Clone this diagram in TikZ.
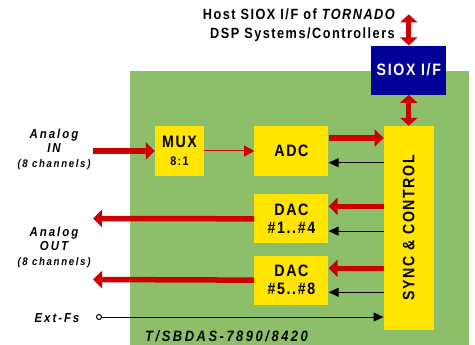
\documentclass[tikz,border=0pt]{standalone}
\usepackage{fontspec}
\newfontfamily\chipfont{Liberation Sans}[FakeStretch=0.86, LetterSpace=10]
\newfontfamily\labelfont{Liberation Sans}[FakeStretch=0.88, LetterSpace=15]
\usepackage{tikz}
\usetikzlibrary{arrows.meta, positioning, calc}

\definecolor{boardgreen}{HTML}{8DBF6A}
\definecolor{chipyellow}{HTML}{FFE500}
\definecolor{sioxblue}{HTML}{000099}
\definecolor{sigred}{HTML}{CC0000}

\begin{document}
\begin{tikzpicture}[
    x=1pt, y=-1pt,
    % --- STYLES ---
    chip/.style={
        rectangle, draw=none, fill=chipyellow,
        minimum width=74pt, minimum height=49pt,
        align=center, inner sep=0pt,
        font=\chipfont\bfseries\fontsize{16.5}{18}\selectfont
    },
    chiptext/.style={inner sep=0pt, font=\chipfont\bfseries\fontsize{16.5}{18}\selectfont},
    sioxbox/.style={
        rectangle, fill=sioxblue, text=white,
        minimum width=75pt, minimum height=49pt,
        inner sep=0pt, font=\chipfont\bfseries\fontsize{16.5}{18}\selectfont
    },
    iolabel/.style={align=center, inner sep=0pt,
        font=\labelfont\bfseries\itshape\fontsize{13}{14.5}\selectfont},
    hostlabel/.style={align=right, inner sep=0pt,
        font=\chipfont\bfseries\fontsize{14.8}{19}\selectfont},
    jack/.style={circle, draw=black, fill=white, line width=1pt, minimum size=5pt, inner sep=0pt},
    bigflow/.style={sigred, line width=5.5pt, -{Triangle[length=9pt, width=17pt]}},
    bothflow/.style={sigred, line width=5pt, {Triangle[length=8pt, width=17pt]}-{Triangle[length=8pt, width=17pt]}},
    sigflow/.style={sigred, line width=1pt, -{Triangle[length=10pt, width=11pt]}},
    ctrl/.style={black, line width=0.8pt, -{Triangle[length=10pt, width=9pt]}}
]
\useasboundingbox (0,0) rectangle (475,345);

% ===== 1. BOARD =====
\fill[boardgreen] (130,71) rectangle (469,345);
\node[anchor=west, inner sep=0pt,
      font=\chipfont\addfontfeature{LetterSpace=17}\bfseries\itshape\fontsize{15}{17}\selectfont]
      (boardname) at (145,336) {T/SBDAS-7890/8420};

% ===== 2. BLOCKS =====
\node[chip, minimum width=49pt, minimum height=50pt] (mux) at (179.5,151) {MUX\\{\fontsize{12.5}{14}\selectfont 8:1}};
\node[chip, minimum height=50pt, right=50pt of mux] (adc) {ADC};
\node[chip, minimum width=50pt, minimum height=203.5pt, right=55pt of adc.north east, anchor=north west] (sync) {};
\node[chiptext, rotate=90] (synctext) at (sync.center) {SYNC \& CONTROL};
\node[chip, below=18pt of adc] (daca) {DAC\\\#1..\#4};
\node[chip, below=12pt of daca] (dacb) {DAC\\\#5..\#8};
\node[sioxbox, above=31pt of sync] (siox) {SIOX I/F};

% ===== 3. OUTSIDE LABELS =====
\node[hostlabel, anchor=east] (host_text) at (395,25.5) {Host SIOX I/F of {\itshape TORNADO}\\DSP Systems/Controllers};
\node[iolabel] (ain_text) at (54,149) {Analog\\IN\\{\fontsize{11}{14}\selectfont (8 channels)}};
\node[iolabel] (aout_text) at (54,247) {Analog\\OUT\\{\fontsize{11}{14}\selectfont (8 channels)}};
\node[iolabel] (extfs) at (57,318) {Ext-Fs};
\node[jack] (extjack) at (99,317) {};

\coordinate (ain) at (93,151);
\coordinate (aouta) at (93,218.5);
\coordinate (aoutb) at (93,279.5);
\coordinate (host) at ($(siox.north)+(0,-31)$);

% ===== 4. CONNECTIONS =====
\draw[bothflow] (host) -- (siox.north);
\draw[bothflow] (siox.south) -- (sync.north);

% input side
\draw[bigflow] (ain) -- (mux);
\draw[sigflow] (mux) -- (adc);
\draw[bigflow] ($(adc.east)+(0,-13)$) -- ($(adc.east -| sync.west)+(0,-13)$);
\draw[ctrl] ($(adc.east -| sync.west)+(0,11.7)$) -- ($(adc.east)+(0,11.7)$);

% output side
\draw[bigflow] ($(daca.east -| sync.west)+(0,-12.5)$) -- ($(daca.east)+(0,-12.5)$);
\draw[ctrl] ($(daca.east -| sync.west)+(0,12.2)$) -- ($(daca.east)+(0,12.2)$);
\draw[bigflow] (daca) -- (aouta);
\draw[bigflow] ($(dacb.east -| sync.west)+(0,-12)$) -- ($(dacb.east)+(0,-12)$);
\draw[ctrl] ($(dacb.east -| sync.west)+(0,12)$) -- ($(dacb.east)+(0,12)$);
\draw[bigflow] (dacb) -- (aoutb);

% sample clock
\draw[ctrl] (extjack) -- (extjack -| sync.west);

\end{tikzpicture}
\end{document}
